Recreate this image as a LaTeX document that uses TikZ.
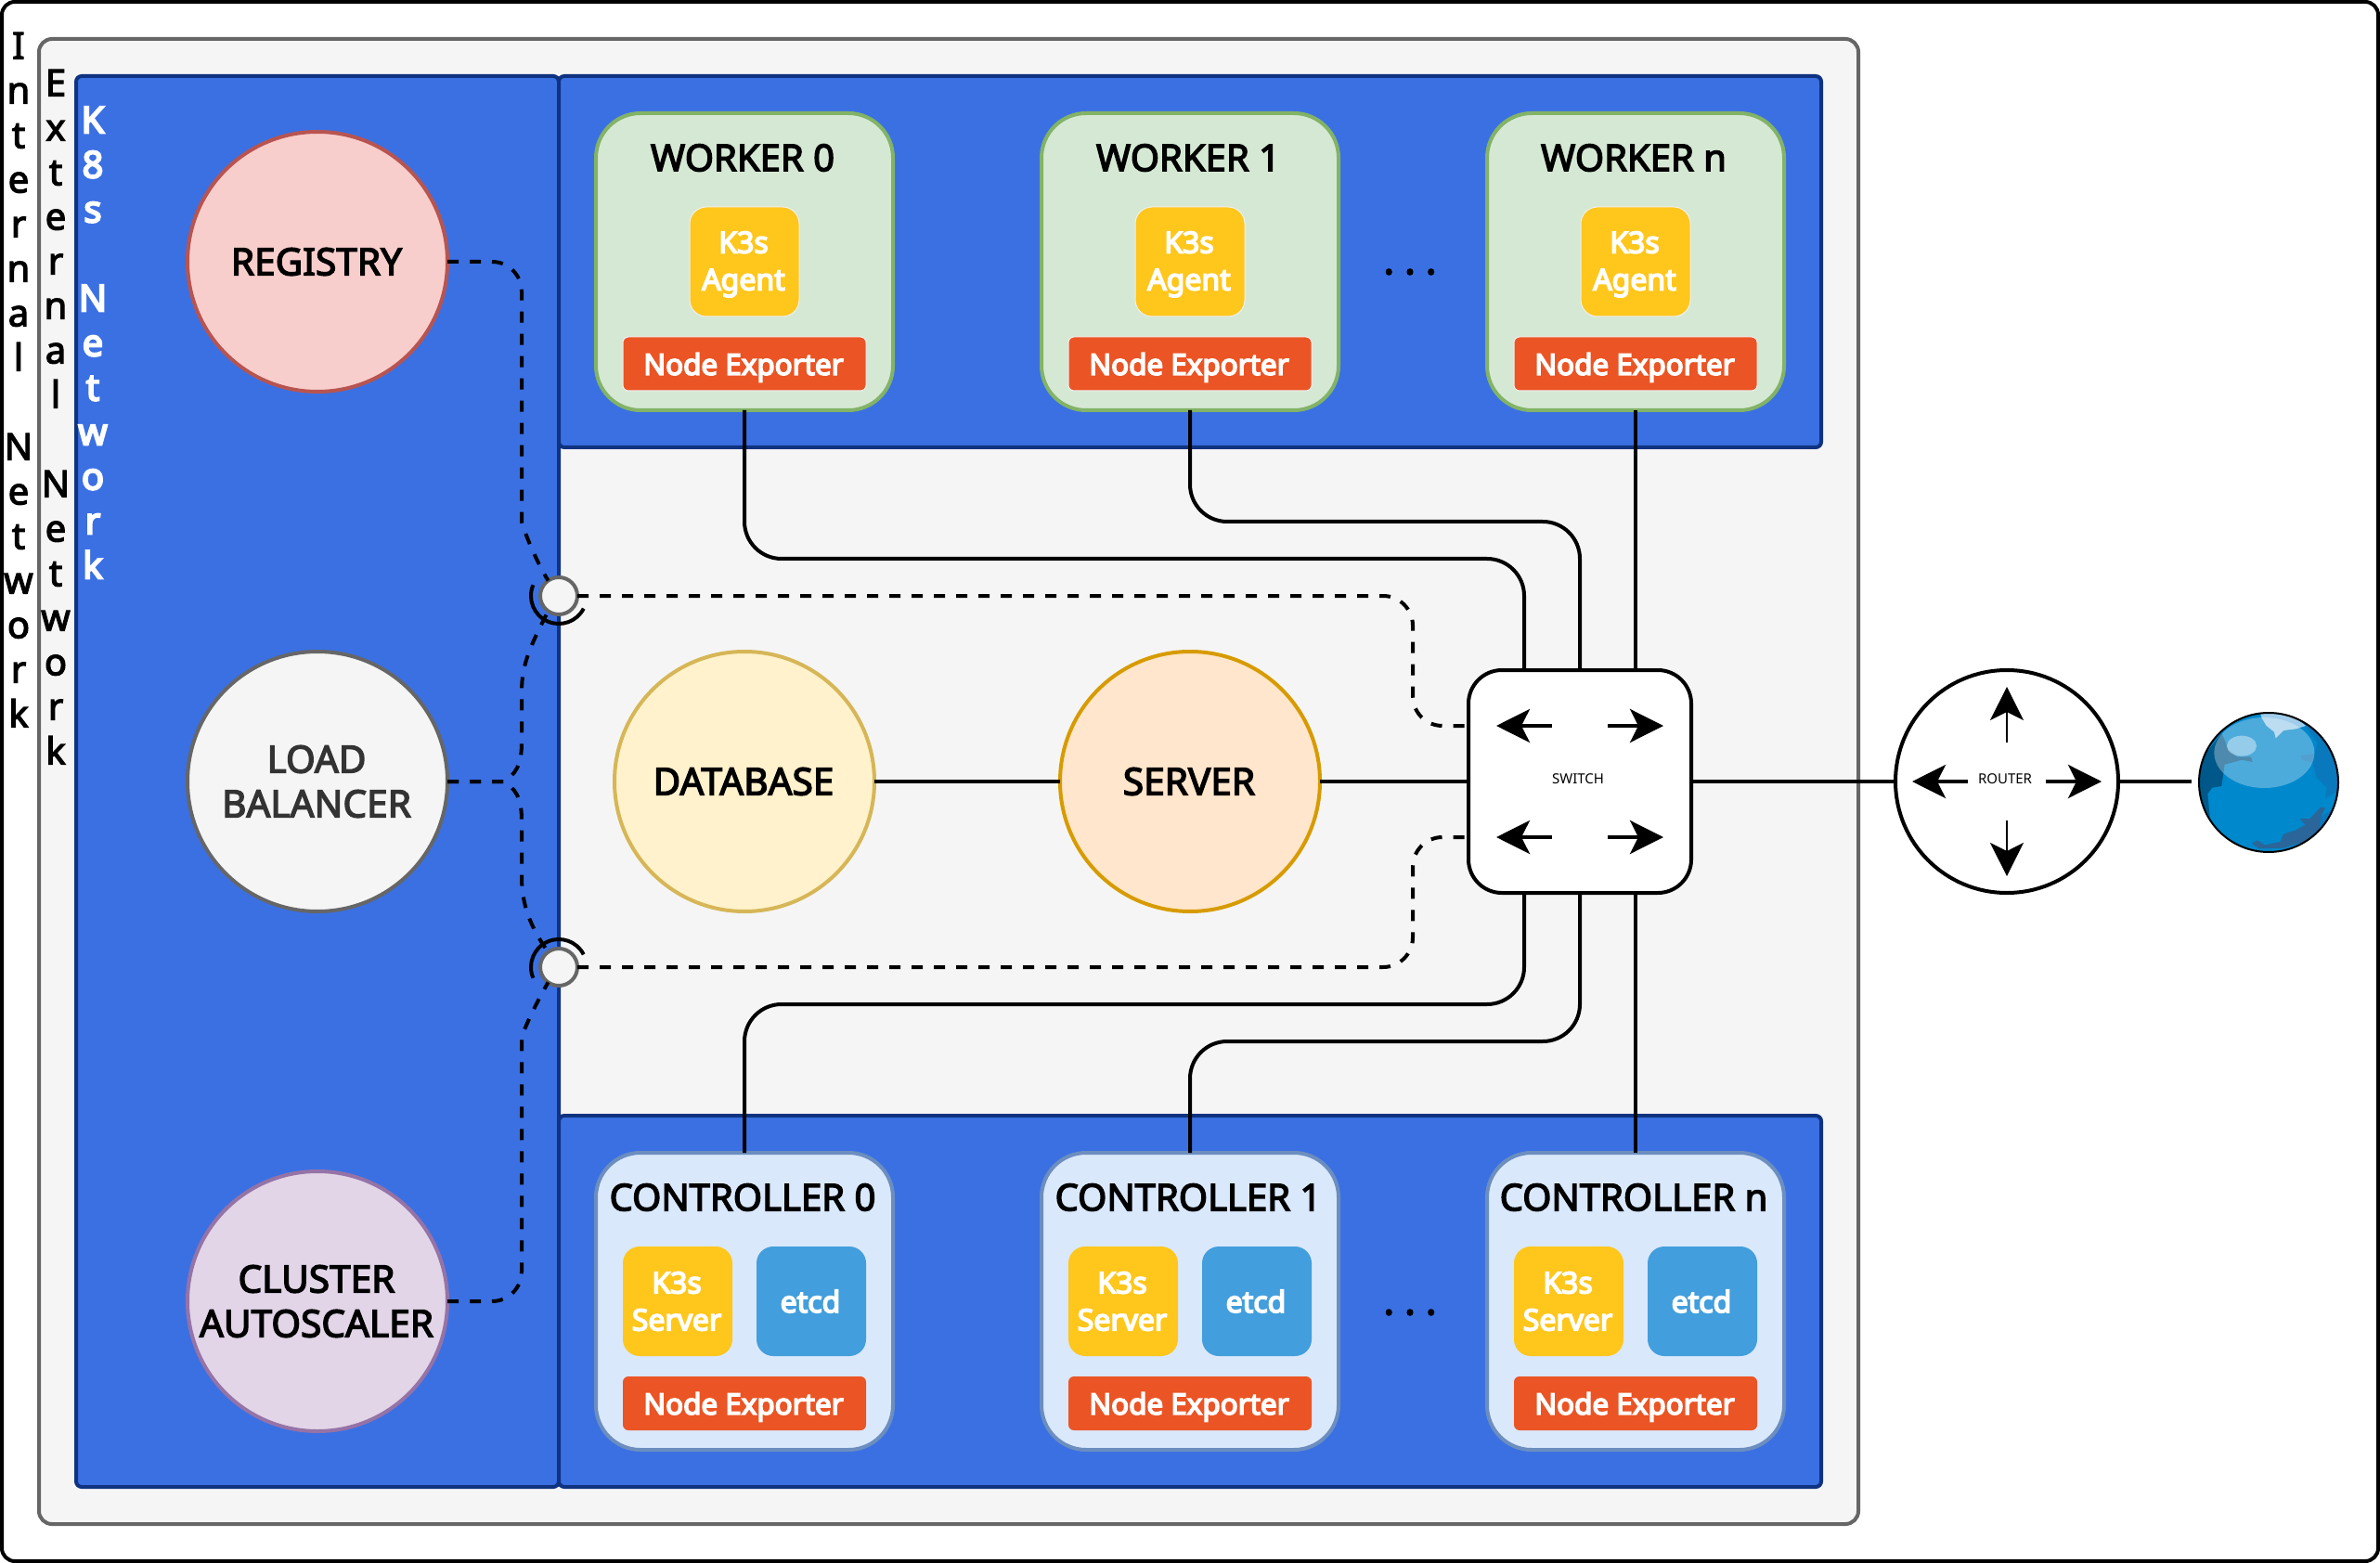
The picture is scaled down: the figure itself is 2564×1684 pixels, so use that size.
\documentclass[tikz,border=0pt]{standalone}
\usepackage{fontspec}
\setmainfont{Noto Sans}
\newfontfamily\medfont[FakeBold=3.5]{Noto Sans}
\newfontfamily\whtfont[FakeBold=5]{Noto Sans}
\newfontfamily\lblfont[FakeBold=3]{Noto Sans}
\usetikzlibrary{arrows.meta}
\definecolor{netblue}{HTML}{3B70E3}
\definecolor{netedge}{HTML}{0F3380}
\definecolor{k3y}{HTML}{FFC61C}
\definecolor{etc}{HTML}{429EDC}
\definecolor{nex}{HTML}{EB5424}
\newcommand{\lift}{\rule{0pt}{14.4pt}}
\newcommand{\nudge}[1][1pt]{\hspace*{-#1}}
\tikzset{
  frame/.style={draw=black,line width=2pt,fill=white,rounded corners=7pt,minimum width=1280pt,minimum height=840pt,inner sep=0pt,outer sep=0pt},
  extnet/.style={draw=black!60,line width=2pt,fill=black!4,rounded corners=7pt,minimum width=980pt,minimum height=800pt,inner sep=0pt,outer sep=0pt},
  panel/.style={draw=netedge,line width=2pt,fill=netblue,rounded corners=3pt,inner sep=0pt,outer sep=0pt},
  svc/.style={circle,line width=2pt,minimum size=140pt,inner sep=0pt,outer sep=0pt,align=center,font=\medfont\fontsize{20.3}{24}\selectfont},
  hostbox/.style={line width=2pt,rounded corners=24pt,minimum size=160pt,inner sep=0pt,outer sep=0pt},
  title/.style={inner sep=0pt,font=\medfont\fontsize{20}{24}\selectfont},
  k3box/.style={fill=k3y,draw=black!6,line width=.5pt,text=white,rounded corners=9pt,minimum size=59pt,inner sep=0pt,outer sep=0pt,align=center,font=\whtfont\fontsize{16}{20}\selectfont},
  etcdbox/.style={k3box,fill=etc},
  nodeexp/.style={fill=nex,draw=black!6,line width=.5pt,text=white,rounded corners=3pt,minimum width=131pt,minimum height=29pt,text depth=0pt,inner sep=0pt,outer sep=0pt,font=\whtfont\fontsize{15.7}{20}\selectfont},
  link/.style={draw=black,line width=2pt,rounded corners=20pt},
  dlink/.style={draw=black,line width=2pt,rounded corners=16pt,dash pattern=on 6pt off 6pt},
  arcline/.style={draw=black,line width=2pt},
  tiplink/.style={draw=black,line width=2pt,-{Stealth[length=18pt,width=18pt,inset=4.5pt]}},
  tiplinkthin/.style={draw=black,line width=1pt,-{Stealth[length=18pt,width=18pt,inset=4.5pt]}},
  junct/.style={circle,draw=black!60,fill=black!4,line width=2pt,minimum size=20pt,inner sep=0pt,outer sep=0pt},
  vlabel/.style={anchor=north,inner sep=0pt,align=center,font=\lblfont\fontsize{20}{24}\selectfont},
  tiny/.style={inner sep=0pt,font=\fontsize{7.5}{9}\selectfont},
  dots/.style={inner sep=0pt,font=\whtfont\fontsize{20}{24}\selectfont},
}
\begin{document}
\begin{tikzpicture}[x=0.5pt,y=-0.5pt]
\useasboundingbox (0,0) rectangle (2564,1684);
\node[frame] (outer) at (1282,842) {};
\node[extnet] (ext) at (1022,842) {};
\node[panel,minimum width=260pt,minimum height=760pt] (k8s) at (342,842) {};
\node[panel,minimum width=680pt,minimum height=200pt] (wpanel) at (1282,282) {};
\node[panel,minimum width=680pt,minimum height=200pt] (cpanel) at (1282,1402) {};
% vertical labels
\node[vlabel] (lint) at (20,34.5) {I\\n\\t\\e\\r\\n\\a\\l\\~\\N\\e\\t\\w\\o\\r\\k};
\node[vlabel] (lext) at (60,74.5) {E\\x\\t\\e\\r\\n\\a\\l\\~\\N\\e\\t\\w\\o\\r\\k};
\node[vlabel,text=white,font=\whtfont\fontsize{20}{24}\selectfont] (lk8s) at (100,114.5) {K\\8\\s\\~\\N\\e\\t\\w\\o\\r\\k};
% services
\node[svc,draw={rgb,255:red,184;green,84;blue,80},fill={rgb,255:red,248;green,206;blue,204}] (reg) at (342,282) {\nudge REGISTRY};
\node[svc,draw={rgb,255:red,102;green,102;blue,102},fill={rgb,255:red,245;green,245;blue,245},text={rgb,255:red,51;green,51;blue,51}] (lb) at (342,842) {\nudge LOAD\\\nudge BALANCER};
\node[svc,draw={rgb,255:red,150;green,115;blue,166},fill={rgb,255:red,225;green,213;blue,231}] (as) at (342,1402) {\nudge CLUSTER\\\nudge AUTOSCALER};
\node[svc,draw={rgb,255:red,214;green,182;blue,86},fill={rgb,255:red,255;green,242;blue,204}] (db) at (802,842) {\nudge DATABASE};
\node[svc,draw={rgb,255:red,215;green,155;blue,0},fill={rgb,255:red,255;green,230;blue,204}] (srv) at (1282,842) {\nudge SERVER};
% workers and controllers
\foreach \x/\n in {802/0,1282/1,1762/n}{
  \node[hostbox,draw={rgb,255:red,130;green,179;blue,102},fill={rgb,255:red,213;green,232;blue,212}] (w\n) at (\x,282) {};
  \node[title] (wt\n) at (\x-2,170) {WORKER \n};
  \node[k3box] (wa\n) at (\x,282) {\nudge\lift K3s\\\nudge Agent};
  \node[nodeexp] (we\n) at (\x,392) {\nudge[1pt]Node Exporter};
  \node[hostbox,draw={rgb,255:red,108;green,142;blue,191},fill={rgb,255:red,218;green,232;blue,252}] (c\n) at (\x,1402) {};
  \node[title] (ct\n) at (\x-2,1290) {CONTROLLER \n};
  \node[k3box,draw=none] (cs\n) at (\x-72,1402) {\nudge K3s\\\nudge Server};
  \node[etcdbox,draw=none] (ce\n) at (\x+72,1402) {\nudge etcd};
  \node[nodeexp,draw=none] (cx\n) at (\x,1512) {\nudge[1pt]Node Exporter};
}
\node[dots] (dw) at (1519,293) {.\hspace{6pt}.\hspace{6pt}.};
\node[dots] (dc) at (1519,1414) {.\hspace{6pt}.\hspace{6pt}.};
% switch, router, globe
\node[draw=black,fill=white,line width=2pt,rounded corners=18pt,minimum size=120pt,inner sep=0pt,outer sep=0pt] (sw) at (1702,842) {};
\node[circle,draw=black,fill=white,line width=2pt,minimum size=120pt,inner sep=0pt,outer sep=0pt] (rt) at (2162,842) {};
\node[circle,minimum size=75pt,inner sep=0pt,outer sep=0pt] (globe) at (2444,842) {};
\node[tiny] (swl) at (1700,839) {SWITCH};
\node[tiny] (rtl) at (2160,839) {ROUTER};
% junctions
\node[junct] (j1) at (602,642) {};
\node[junct] (j2) at (602,1042) {};
% named points
\coordinate (t1) at (1642,722); \coordinate (t2) at (1702,722); \coordinate (t3) at (1762,722);
\coordinate (b1) at (1642,962); \coordinate (b2) at (1702,962); \coordinate (b3) at (1762,962);
\coordinate (wbus0) at (802,602); \coordinate (wbus1) at (1282,562);
\coordinate (cbus0) at (802,1082); \coordinate (cbus1) at (1282,1122);
\coordinate (sl1) at (1582,782); \coordinate (sl2) at (1582,902);
\coordinate (lbfork) at (542,842);
% solid connectors
\draw[link] (w0.south) -- (wbus0) -| (t1);
\draw[link] (w1.south) -- (wbus1) -| (t2);
\draw[link] (wn.south) -- (t3);
\draw[link] (c0.north) -- (cbus0) -| (b1);
\draw[link] (c1.north) -- (cbus1) -| (b2);
\draw[link] (cn.north) -- (b3);
\draw[link] (db.east) -- (srv.west);
\draw[link] (srv.east) -- (sw.west);
\draw[link] (sw.east) -- (rt.west);
\draw[link] (rt.east) -- ([xshift=-4pt]globe.west);
% dashed connectors
\draw[dlink] (reg.east) -- (562,282) -- (562,530) [rounded corners=0pt] .. controls (562,565) and (575,600) .. (j1.125);
\draw[dlink,rounded corners=0pt] (lb.east) -- (lbfork) .. controls (555,835) and (562,825) .. (562,800) -- (562,745) .. controls (562,715) and (572,695) .. (j1.235);
\draw[dlink,rounded corners=0pt] (lb.east) -- (lbfork) .. controls (555,849) and (562,859) .. (562,884) -- (562,945) .. controls (562,975) and (572,1000) .. (j2.125);
\draw[dlink] (as.east) -- (562,1402) -- (562,1150) [rounded corners=0pt] .. controls (562,1115) and (575,1085) .. (j2.235);
\draw[dlink] (j1.east) -- (1522,642) -- (1522,782) -- (sl1);
\draw[dlink] (j2.east) -- (1522,1042) -- (1522,902) -- (sl2);
% socket arcs
\draw[arcline] (j1.center) ++(157:15pt) arc[start angle=157,end angle=333,radius=15pt];
\draw[arcline] (j2.center) ++(203:15pt) arc[start angle=203,end angle=27,radius=15pt];
% switch arrows
\foreach \yy in {782,902}{
  \draw[tiplink] (1672,\yy) -- (1612,\yy);
  \draw[tiplink] (1732,\yy) -- (1792,\yy);
}
% router arrows
\draw[tiplinkthin] (2162,800) -- (2162,740);
\draw[tiplinkthin] (2162,884) -- (2162,944);
\draw[tiplink] (2120,842) -- (2060,842);
\draw[tiplink] (2204,842) -- (2264,842);
% globe
\begin{scope}[shift={(2360,757)},x=0.16667pt,y=-0.16667pt]
  \begin{scope}
    \clip (252,258) circle[radius=37.5pt];
    \fill[fill={rgb,255:red,0;green,136;blue,204}] (252,258) circle[radius=37.5pt];
    \fill[fill={rgb,255:red,0;green,88;blue,138}] (100,100) -- (110,120) -- (120,150) -- (150,175) -- (195,175) -- (200,192) -- (165,185) -- (130,195) -- (110,200) -- (105,235) -- (100,270) -- (70,275) -- (55,295) -- (60,350) -- (62,370) -- (20,300) -- (20,200) -- cycle;
    \fill[fill={rgb,255:red,10;green,120;blue,188}] (365,70) -- (410,130) -- (400,165) -- (355,170) -- (360,185) -- (395,195) -- (405,240) -- (440,275) -- (435,310) -- (465,290) -- (490,300) -- (490,150) -- (420,70) -- cycle;
    \fill[fill={rgb,255:red,10;green,120;blue,188}] (415,370) -- (412,410) -- (450,400) -- (470,340) -- cycle;
    \fill[fill={rgb,255:red,42;green,102;blue,153}] (198,455) -- (215,445) -- (240,460) -- (290,450) -- (300,425) -- (340,412) -- (370,395) -- (352,375) -- (385,375) -- (420,338) -- (435,340) -- (420,370) -- (415,410) -- (380,445) -- (300,470) -- (220,472) -- cycle;
    \fill[fill={rgb,255:red,160;green,205;blue,235}] (230,50) -- (245,75) -- (270,95) -- (275,115) -- (300,90) -- (340,85) -- (372,75) -- (340,50) -- (270,30) -- (225,35) -- cycle;
    \fill[white,opacity=.3] (238,162) ellipse[x radius=27pt,y radius=19pt];
    \fill[white,opacity=.4] (165,140) ellipse[x radius=8pt,y radius=5.5pt];
  \end{scope}
  \draw[black,line width=1pt] (252,258) circle[radius=37.5pt];
\end{scope}
\end{tikzpicture}
\end{document}
